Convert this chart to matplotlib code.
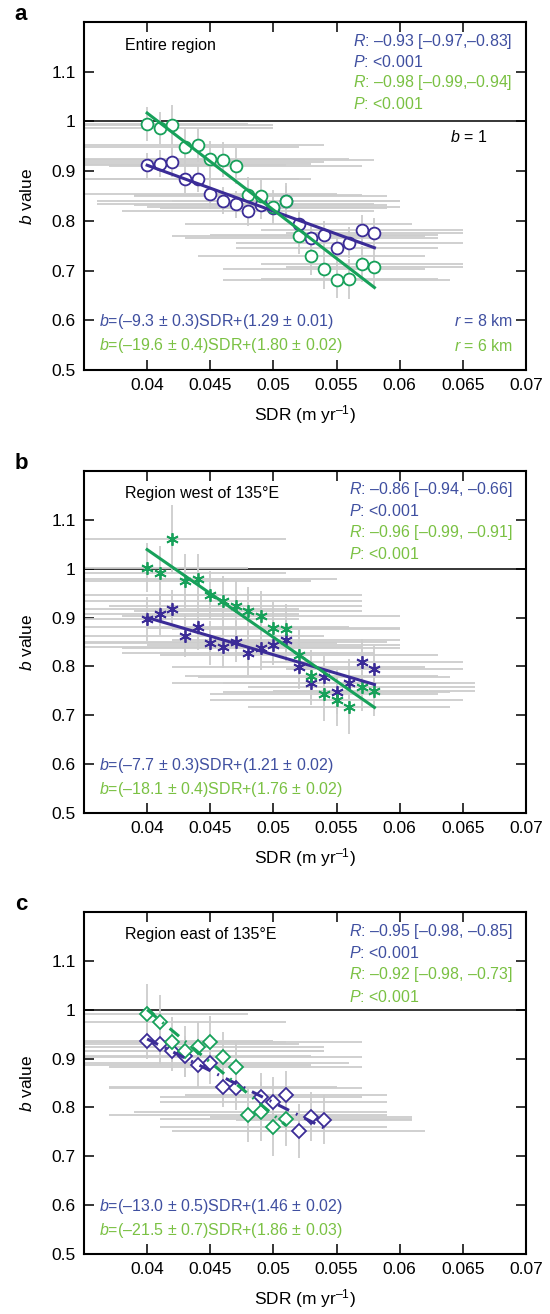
import numpy as np
import matplotlib
matplotlib.use("Agg")
import matplotlib.pyplot as plt

plt.rcParams['font.family'] = ['Liberation Sans', 'DejaVu Sans']
plt.rcParams['mathtext.fontset'] = 'custom'
plt.rcParams['mathtext.rm'] = 'Liberation Sans'
plt.rcParams['mathtext.it'] = 'Liberation Sans:italic'

# colores
c_blue = '#3b2c97'
c_green = '#17a15a'
t_blue = '#3f4fa0'
t_green = '#7ac143'
c_err = '#cdcdcd'

# ---- panel a : entire region ----
sdr_a = [0.040, 0.041, 0.042, 0.043, 0.044, 0.045, 0.046, 0.047, 0.048, 0.049,
         0.050, 0.051, 0.052, 0.053, 0.054, 0.055, 0.056, 0.057, 0.058]
b_a_blue = [0.912, 0.915, 0.918, 0.884, 0.885, 0.854, 0.841, 0.833, 0.819, 0.832,
            0.826, 0.840, 0.794, 0.765, 0.771, 0.746, 0.756, 0.781, 0.776]
b_a_green = [0.995, 0.987, 0.993, 0.948, 0.953, 0.924, 0.923, 0.911, 0.853, 0.851,
             0.828, 0.841, 0.770, 0.729, 0.703, 0.681, 0.683, 0.714, 0.708]
xerr_a_blue = [0.011, 0.012, 0.012, 0.009, 0.009, 0.010, 0.010, 0.011, 0.010, 0.010,
               0.009, 0.009, 0.009, 0.010, 0.009, 0.008, 0.009, 0.008, 0.007]
xerr_a_green = [0.008, 0.009, 0.008, 0.009, 0.010, 0.011, 0.012, 0.010, 0.009, 0.010,
                0.010, 0.009, 0.010, 0.009, 0.008, 0.009, 0.007, 0.008, 0.007]
yerr_a_blue = [0.025, 0.027, 0.030, 0.028, 0.026, 0.030, 0.028, 0.027, 0.030, 0.028,
               0.027, 0.030, 0.028, 0.030, 0.029, 0.030, 0.031, 0.030, 0.030]
yerr_a_green = [0.035, 0.033, 0.040, 0.036, 0.034, 0.037, 0.035, 0.036, 0.035, 0.036,
                0.034, 0.036, 0.037, 0.038, 0.040, 0.037, 0.040, 0.036, 0.038]
fit_x_a = [0.040, 0.058]
fit_a_blue = [0.912, 0.746]
fit_a_green = [1.017, 0.666]

# ---- panel b : west of 135E ----
sdr_b = sdr_a
b_b_blue = [0.897, 0.907, 0.917, 0.863, 0.880, 0.847, 0.839, 0.850, 0.828, 0.837,
            0.844, 0.854, 0.799, 0.767, 0.778, 0.748, 0.767, 0.809, 0.795]
b_b_green = [1.002, 0.991, 1.060, 0.975, 0.978, 0.946, 0.934, 0.924, 0.914, 0.904,
             0.879, 0.877, 0.824, 0.781, 0.744, 0.732, 0.716, 0.758, 0.750]
xerr_b_blue = [0.012, 0.011, 0.010, 0.011, 0.012, 0.010, 0.011, 0.012, 0.010, 0.011,
               0.010, 0.009, 0.010, 0.011, 0.010, 0.009, 0.010, 0.008, 0.007]
xerr_b_green = [0.008, 0.010, 0.009, 0.010, 0.011, 0.012, 0.011, 0.010, 0.009, 0.011,
                0.010, 0.009, 0.011, 0.010, 0.009, 0.010, 0.008, 0.009, 0.008]
yerr_b_blue = [0.045, 0.042, 0.040, 0.044, 0.046, 0.045, 0.043, 0.042, 0.045, 0.044,
               0.042, 0.044, 0.045, 0.046, 0.044, 0.045, 0.048, 0.047, 0.046]
yerr_b_green = [0.050, 0.055, 0.070, 0.055, 0.052, 0.050, 0.052, 0.050, 0.048, 0.050,
                0.052, 0.050, 0.050, 0.052, 0.055, 0.054, 0.055, 0.050, 0.052]
fit_x_b = [0.040, 0.058]
fit_b_blue = [0.900, 0.763]
fit_b_green = [1.039, 0.716]

# ---- panel c : east of 135E ----
sdr_c_blue = [0.040, 0.041, 0.042, 0.043, 0.044, 0.045, 0.046, 0.047, 0.049, 0.050,
              0.051, 0.052, 0.053, 0.054]
b_c_blue = [0.935, 0.929, 0.915, 0.905, 0.887, 0.891, 0.842, 0.839, 0.822, 0.812,
            0.825, 0.752, 0.781, 0.775]
xerr_c_blue = [0.010, 0.011, 0.012, 0.010, 0.009, 0.011, 0.009, 0.010, 0.008, 0.009,
               0.008, 0.010, 0.008, 0.007]
yerr_c_blue = [0.035, 0.040, 0.040, 0.042, 0.045, 0.044, 0.042, 0.045, 0.048, 0.050,
               0.050, 0.055, 0.050, 0.050]
sdr_c_green = [0.040, 0.041, 0.042, 0.043, 0.044, 0.045, 0.046, 0.047, 0.048, 0.049,
               0.050, 0.051]
b_c_green = [0.992, 0.975, 0.934, 0.915, 0.924, 0.933, 0.903, 0.882, 0.784, 0.791,
             0.759, 0.776]
xerr_c_green = [0.008, 0.010, 0.009, 0.011, 0.010, 0.012, 0.011, 0.010, 0.011, 0.010,
                0.009, 0.010]
yerr_c_green = [0.060, 0.055, 0.050, 0.052, 0.050, 0.055, 0.052, 0.050, 0.055, 0.060,
                0.058, 0.055]
fit_x_c_blue = [0.040, 0.054]
fit_c_blue = [0.940, 0.758]
fit_x_c_green = [0.040, 0.051]
fit_c_green = [1.000, 0.763]

xticks = [0.04, 0.045, 0.05, 0.055, 0.06, 0.065, 0.07]
xticklabels = ['0.04', '0.045', '0.05', '0.055', '0.06', '0.065', '0.07']
yticks = [0.5, 0.6, 0.7, 0.8, 0.9, 1.0, 1.1]
yticklabels = ['0.5', '0.6', '0.7', '0.8', '0.9', '1', '1.1']

titles = ['Entire region', 'Region west of 135°E', 'Region east of 135°E']
stats = [
    ['$R$: –0.93 [–0.97,–0.83]', '$P$: <0.001', '$R$: –0.98 [–0.99,–0.94]', '$P$: <0.001'],
    ['$R$: –0.86 [–0.94, –0.66]', '$P$: <0.001', '$R$: –0.96 [–0.99, –0.91]', '$P$: <0.001'],
    ['$R$: –0.95 [–0.98, –0.85]', '$P$: <0.001', '$R$: –0.92 [–0.98, –0.73]', '$P$: <0.001'],
]
eqs = [
    ['$b$=(–9.3 ± 0.3)SDR+(1.29 ± 0.01)', '$b$=(–19.6 ± 0.4)SDR+(1.80 ± 0.02)'],
    ['$b$=(–7.7 ± 0.3)SDR+(1.21 ± 0.02)', '$b$=(–18.1 ± 0.4)SDR+(1.76 ± 0.02)'],
    ['$b$=(–13.0 ± 0.5)SDR+(1.46 ± 0.02)', '$b$=(–21.5 ± 0.7)SDR+(1.86 ± 0.03)'],
]
letters = ['a', 'b', 'c']
stat_x = [0.609, 0.599, 0.599]
stat_y = [[0.945, 0.885, 0.825, 0.764],
          [0.947, 0.883, 0.820, 0.756],
          [0.942, 0.879, 0.816, 0.752]]

fig = plt.figure(figsize=(5.5, 13.14), dpi=100)
ax_pos = [[0.1527, 0.7184, 0.8036, 0.2648],
          [0.1527, 0.3813, 0.8036, 0.2603],
          [0.1527, 0.0457, 0.8036, 0.2603]]
axes = [fig.add_axes(p) for p in ax_pos]

ast = (6, 2, 0)
series = [
    (sdr_a, b_a_blue, xerr_a_blue, yerr_a_blue, sdr_a, b_a_green, xerr_a_green, yerr_a_green, 'o', 8.5),
    (sdr_b, b_b_blue, xerr_b_blue, yerr_b_blue, sdr_b, b_b_green, xerr_b_green, yerr_b_green, ast, 9),
    (sdr_c_blue, b_c_blue, xerr_c_blue, yerr_c_blue, sdr_c_green, b_c_green, xerr_c_green, yerr_c_green, 'D', 7.5),
]
fits = [
    (fit_x_a, fit_a_blue, fit_x_a, fit_a_green, '-'),
    (fit_x_b, fit_b_blue, fit_x_b, fit_b_green, '-'),
    (fit_x_c_blue, fit_c_blue, fit_x_c_green, fit_c_green, (0, (4, 2.5, 0.6, 2.5))),
]

for i, ax in enumerate(axes):
    xb, yb, exb, eyb, xg, yg, exg, eyg, mk, ms = series[i]
    ax.axhline(1.0, color='black', lw=1.1, zorder=1)
    for x, y, ex, ey in [(xb, yb, exb, eyb), (xg, yg, exg, eyg)]:
        ax.errorbar(x, y, xerr=ex, yerr=ey, fmt='none', ecolor=c_err, elinewidth=1.3,
                    capsize=0, zorder=2)
    ax.plot(xb, yb, ls='none', marker=mk, ms=ms, mfc='white' if mk != ast else c_blue,
            mec=c_blue, mew=1.3, zorder=3)
    ax.plot(xg, yg, ls='none', marker=mk, ms=ms, mfc='white' if mk != ast else c_green,
            mec=c_green, mew=1.3, zorder=3)
    fxb, fyb, fxg, fyg, ls = fits[i]
    ax.plot(fxb, fyb, color=c_blue, lw=2.2, ls=ls, zorder=4)
    ax.plot(fxg, fyg, color=c_green, lw=2.2, ls=ls, zorder=4)

    ax.set_xlim(0.035, 0.07)
    ax.set_ylim(0.5, 1.2)
    ax.set_xticks(xticks)
    ax.set_xticklabels(xticklabels)
    ax.set_yticks(yticks)
    ax.set_yticklabels(yticklabels)
    ax.tick_params(direction='in', top=True, right=True, length=7, width=1.1,
                   labelsize=12.5, pad=6)
    for s in ax.spines.values():
        s.set_linewidth(1.5)
    ax.set_xlabel('SDR (m yr$^{–1}$)', fontsize=12.5, labelpad=7)
    ax.set_ylabel('$b$ value', fontsize=12.5, labelpad=12)

    ax.text(0.093, 0.934, titles[i], transform=ax.transAxes, fontsize=11.5,
            va='center', ha='left')
    cols = [t_blue, t_blue, t_green, t_green]
    for s, yy, cc in zip(stats[i], stat_y[i], cols):
        ax.text(stat_x[i], yy, s, transform=ax.transAxes, fontsize=11.5, color=cc,
                ha='left', va='center')
    ax.text(0.034, 0.14, eqs[i][0], transform=ax.transAxes, fontsize=11.5,
            color=t_blue, ha='left', va='center')
    ax.text(0.034, 0.07, eqs[i][1], transform=ax.transAxes, fontsize=11.5,
            color=t_green, ha='left', va='center')
    fig.text(0.027, (ax_pos[i][1] + ax_pos[i][3]) + 0.0055, letters[i],
             fontsize=16, fontweight='bold', ha='left', va='center')

axes[0].text(0.912, 0.67, '$b$ = 1', transform=axes[0].transAxes, fontsize=11.5,
             ha='right', va='center')
axes[0].text(0.97, 0.14, '$r$ = 8 km', transform=axes[0].transAxes, fontsize=11.5,
             color=t_blue, ha='right', va='center')
axes[0].text(0.97, 0.07, '$r$ = 6 km', transform=axes[0].transAxes, fontsize=11.5,
             color=t_green, ha='right', va='center')

plt.savefig('out.png', dpi=100)
